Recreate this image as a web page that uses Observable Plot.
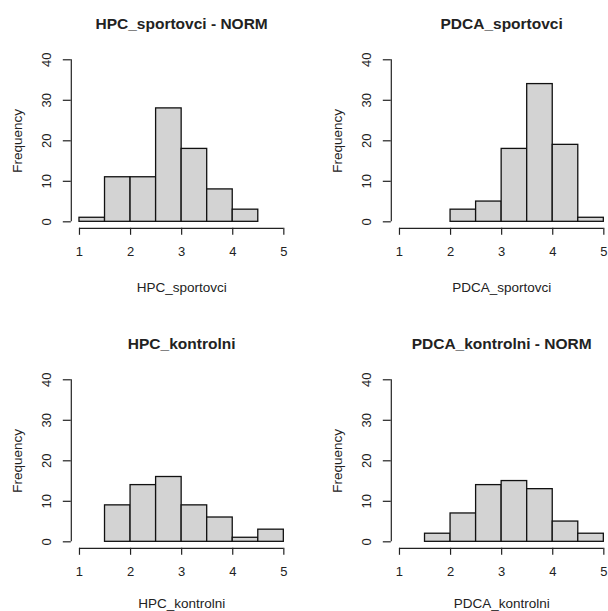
<!DOCTYPE html>
<html><head><meta charset="utf-8">
<script src="https://cdn.jsdelivr.net/npm/d3@7"></script>
<script src="https://cdn.jsdelivr.net/npm/@observablehq/plot@0.6"></script>
<style>
html,body{margin:0;padding:0;background:#fff;overflow:hidden;}
#grid{position:relative;width:608px;height:611px;overflow:hidden;background:#fff;}
.panel{position:absolute;width:304px;height:320px;}
.panel svg{max-width:none !important;}
</style></head><body><div id="grid"></div>
<script>
// ---- data ----
const titles = ["HPC_sportovci - NORM", "PDCA_sportovci", "HPC_kontrolni", "PDCA_kontrolni - NORM"];
const xLabels = ["HPC_sportovci", "PDCA_sportovci", "HPC_kontrolni", "PDCA_kontrolni"];
const yLabel = "Frequency";

const breaksHpcSportovci = [1, 1.5, 2, 2.5, 3, 3.5, 4, 4.5];
const countsHpcSportovci = [1, 11, 11, 28, 18, 8, 3];

const breaksPdcaSportovci = [2, 2.5, 3, 3.5, 4, 4.5, 5];
const countsPdcaSportovci = [3, 5, 18, 34, 19, 1];

const breaksHpcKontrolni = [1.5, 2, 2.5, 3, 3.5, 4, 4.5, 5];
const countsHpcKontrolni = [9, 14, 16, 9, 6, 1, 3];

const breaksPdcaKontrolni = [1.5, 2, 2.5, 3, 3.5, 4, 4.5, 5];
const countsPdcaKontrolni = [2, 7, 14, 15, 13, 5, 2];

const xTicks = [1, 2, 3, 4, 5];
const yTicks = [0, 10, 20, 30, 40];
const xLim = [1, 5];
const yLim = [0, 40];

// ---- drawing ----
const FONT = "'Liberation Sans', Arial, Helvetica, sans-serif";
const INK = "#222";

function panel(title, xlab, breaks, counts, xlabDy) {
  const bins = counts.map((c, i) => ({x1: breaks[i], x2: breaks[i + 1], n: c}));
  const ex = (xLim[1] - xLim[0]) * 0.04, ey = (yLim[1] - yLim[0]) * 0.04;
  const xDom = [xLim[0] - ex, xLim[1] + ex];
  const yDom = [yLim[0] - ey, yLim[1] + ey];
  return Plot.plot({
    width: 304, height: 320,
    marginLeft: 70.8, marginRight: 12.5, marginTop: 52.8, marginBottom: 92.2,
    style: {fontFamily: FONT, background: "transparent", overflow: "visible", color: INK},
    x: {domain: xDom},
    y: {domain: yDom},
    marks: [
      Plot.rect(bins, {x1: "x1", x2: "x2", y1: () => 0, y2: "n", fill: "#d3d3d3", stroke: "#111", strokeWidth: 1.3}),
      Plot.ruleX([{x: xDom[0], a: yLim[0], b: yLim[1]}], {x: "x", y1: "a", y2: "b", stroke: INK, strokeWidth: 1.2}),
      Plot.ruleY([{y: yDom[0], a: xLim[0], b: xLim[1]}], {y: "y", x1: "a", x2: "b", stroke: INK, strokeWidth: 1.2}),
      Plot.axisX({ticks: xTicks, tickSize: 7, tickPadding: 11, fontSize: 13, label: null, color: INK, strokeWidth: 1.2, tickFormat: d3.format("d")}),
      Plot.axisY({ticks: yTicks, tickSize: 8, text: null, label: null, color: INK, strokeWidth: 1.2}),
      Plot.text(yTicks, {y: d => d, frameAnchor: "left", dx: -24, rotate: -90, textAnchor: "middle", lineAnchor: "middle", fontSize: 13, fill: INK}),
      Plot.text([title], {frameAnchor: "top", dy: -29.5, textAnchor: "middle", fontWeight: "bold", fontSize: 15.5, fill: INK, lineAnchor: "middle"}),
      Plot.text([xlab], {frameAnchor: "bottom", dy: xlabDy, textAnchor: "middle", fontSize: 13.5, fill: INK, lineAnchor: "middle"}),
      Plot.text([yLabel], {frameAnchor: "left", dx: -53.3, rotate: -90, textAnchor: "middle", fontSize: 13.5, fill: INK, lineAnchor: "middle"})
    ]
  });
}

const panels = [
  [breaksHpcSportovci, countsHpcSportovci, 0, 0, 59],
  [breaksPdcaSportovci, countsPdcaSportovci, 320, 0, 59],
  [breaksHpcKontrolni, countsHpcKontrolni, 0, 320, 55.5],
  [breaksPdcaKontrolni, countsPdcaKontrolni, 320, 320, 55.5]
];
const grid = document.getElementById("grid");
panels.forEach(([b, c, left, top, dy], i) => {
  const div = document.createElement("div");
  div.className = "panel";
  div.style.left = left + "px";
  div.style.top = top + "px";
  div.appendChild(panel(titles[i], xLabels[i], b, c, dy));
  grid.appendChild(div);
});
</script>
</body></html>
